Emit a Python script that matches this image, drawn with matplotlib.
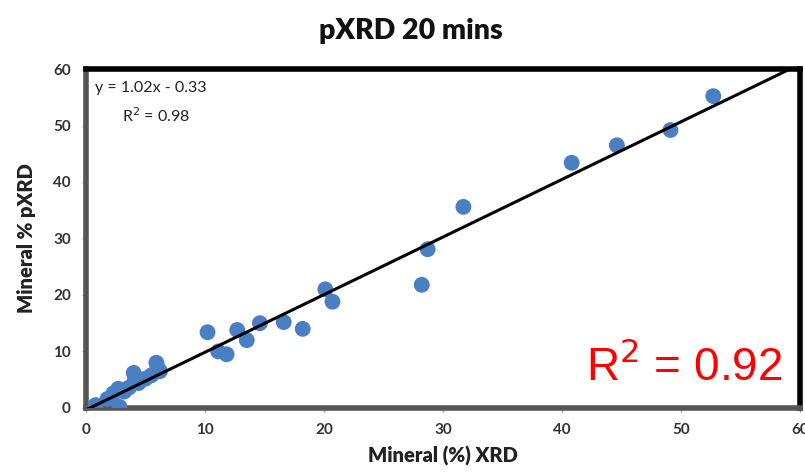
import numpy as np
import matplotlib
matplotlib.use("Agg")
import matplotlib.pyplot as plt

# Mineral abundance: conventional XRD vs portable XRD (20 min scans)
xrd = [0.8, 1.8, 2.3, 2.7, 2.8, 3.2, 3.6, 4.0, 4.1, 4.4, 5.0, 5.5, 5.9, 6.0, 6.2,
       10.2, 11.1, 11.8, 12.7, 13.5, 14.6, 16.6, 18.2,
       20.1, 20.7, 28.2, 28.7, 31.7, 40.8, 44.6, 49.1, 52.7]
pxrd = [0.5, 1.6, 2.6, 3.4, 0.2, 2.9, 3.6, 6.2, 5.0, 4.4, 5.2, 5.8, 8.0, 7.2, 6.5,
        13.4, 10.0, 9.5, 13.8, 12.0, 15.0, 15.2, 14.0,
        21.0, 18.8, 21.8, 28.1, 35.6, 43.4, 46.5, 49.2, 55.2]

slope, intercept = 1.02, -0.33
r2_fit = 0.98
r2_note = 0.92

x_ticks = [0, 10, 20, 30, 40, 50, 60]
y_ticks = [0, 10, 20, 30, 40, 50, 60]

label_font = "Lato"

fig = plt.figure(figsize=(8.05, 4.76), dpi=100)
ax = fig.add_axes([0.107, 0.143, 0.887, 0.712])

ax.scatter(xrd, pxrd, s=130, color="#4a7fc4", edgecolors="none", zorder=3)

xl = np.array([0, 60])
ax.plot(xl, slope * xl + intercept, color="black", lw=2.2, zorder=4)

ax.set_xlim(0, 60)
ax.set_ylim(0, 60)
ax.set_xticks(x_ticks)
ax.set_yticks(y_ticks)
ax.tick_params(direction="out", length=3, width=1, color="#999999",
               labelsize=11, labelcolor="#333333", pad=8)
for lbl in ax.get_xticklabels() + ax.get_yticklabels():
    lbl.set_fontfamily(label_font)
    lbl.set_fontweight("bold")

for side in ("top", "right"):
    ax.spines[side].set_color("black")
    ax.spines[side].set_linewidth(4)
for side in ("left", "bottom"):
    ax.spines[side].set_color("#555555")
    ax.spines[side].set_linewidth(4)

ax.set_xlabel("Mineral (%) XRD", fontsize=14.5, fontweight="heavy",
              fontfamily=label_font, color="#222222", labelpad=6)
ax.set_ylabel("Mineral % pXRD", fontsize=14.5, fontweight="heavy",
              fontfamily=label_font, color="#222222", labelpad=12)

fig.text(0.51, 0.935, "pXRD 20 mins", ha="center", va="center",
         fontsize=20.5, fontweight="heavy", fontfamily=label_font, color="#111111")

ax.text(0.012, 0.965, f"y = {slope:.2f}x - {abs(intercept):.2f}", transform=ax.transAxes,
        ha="left", va="top", fontsize=11.5, fontfamily=label_font, color="#222222")
ax.text(0.05, 0.89, f"R$^2$ = {r2_fit:.2f}", transform=ax.transAxes,
        ha="left", va="top", fontsize=11.5, fontfamily=label_font, color="#222222")

ax.text(0.975, 0.12, f"R$^2$ = {r2_note:.2f}", transform=ax.transAxes,
        ha="right", va="center", fontsize=33, fontfamily="Liberation Sans",
        color="#ff0000", zorder=5)

fig.savefig("out.png", dpi=100)
